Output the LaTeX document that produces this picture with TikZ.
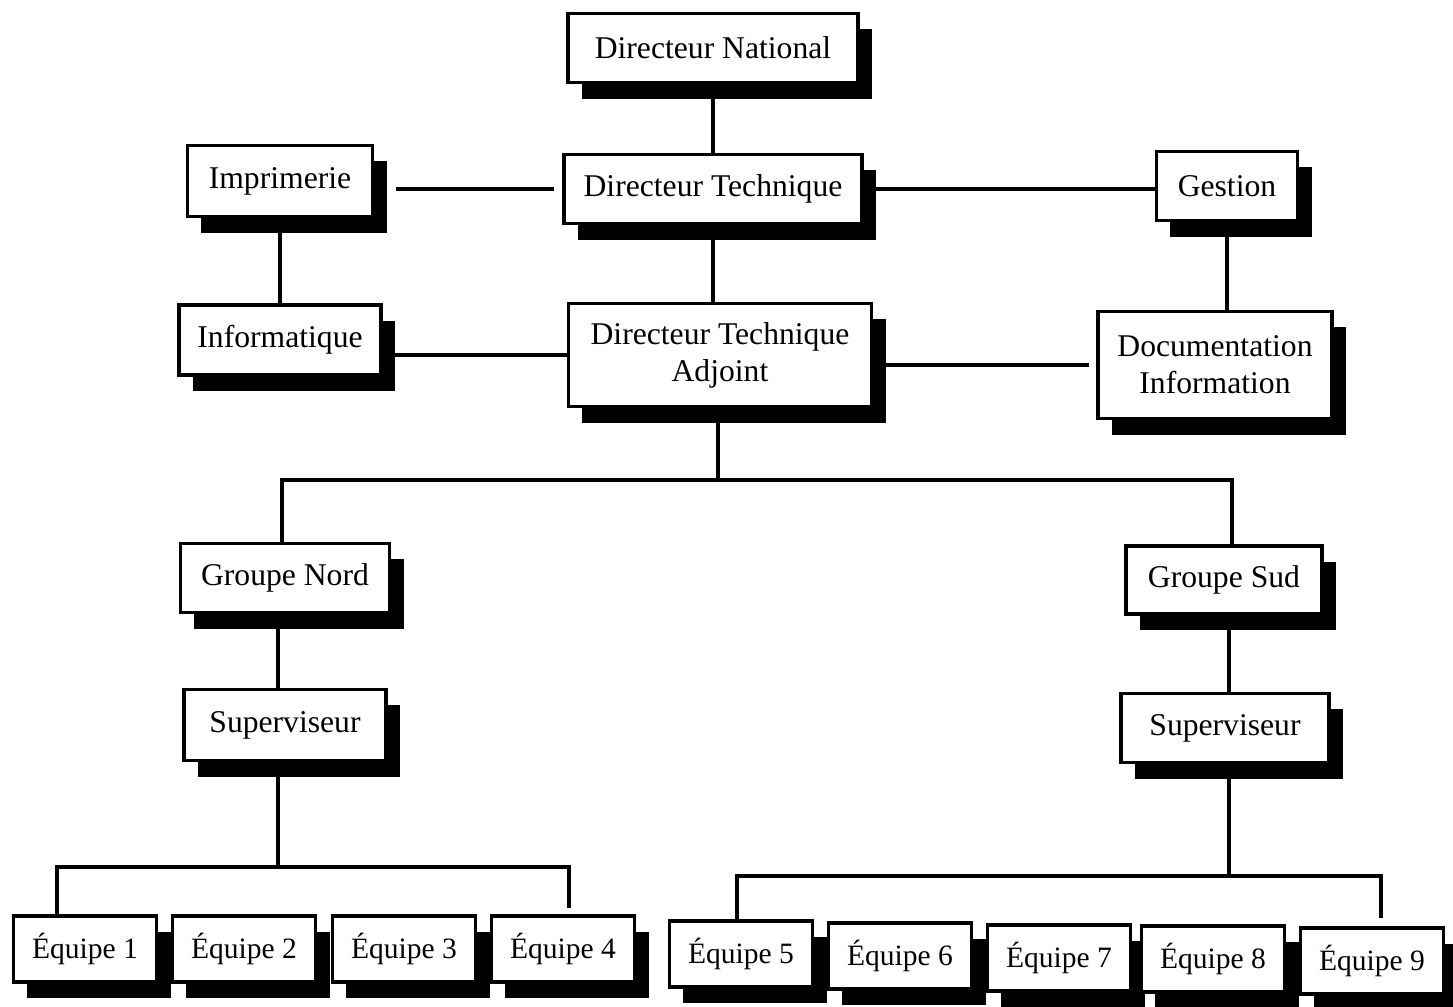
\documentclass[tikz,border=0pt]{standalone}
\usepackage{fontspec}
\setmainfont{Liberation Serif}
\usetikzlibrary{shadows}

\begin{document}
\begin{tikzpicture}[x=0.01cm, y=-0.01cm,
  orgbox/.style 2 args={draw, fill=white, line width=1pt, inner sep=0pt, align=center,
    minimum width=#1, minimum height=#2, font=\fontsize{9}{10.5}\selectfont,
    drop shadow={shadow xshift=0.14cm, shadow yshift=-0.16cm, fill=black, opacity=1}},
  teambox/.style={orgbox={1.43cm}{0.66cm}, font=\fontsize{8.4}{10}\selectfont},
  link/.style={line width=1pt}]
  \useasboundingbox (0,0) rectangle (1453,1007);
  % direction
  \node[orgbox={2.90cm}{0.69cm}] (dn) at (713,48) {Directeur National};
  \node[orgbox={2.98cm}{0.69cm}] (dt) at (713,189) {Directeur Technique};
  \node[orgbox={3.03cm}{1.03cm}] (dta) at (720,355) {Directeur Technique\\Adjoint};
  % services, left
  \node[orgbox={1.85cm}{0.71cm}] (imp) at (280,181) {Imprimerie};
  \node[orgbox={2.02cm}{0.70cm}] (inf) at (280,340) {Informatique};
  % services, right
  \node[orgbox={1.41cm}{0.69cm}] (ges) at (1227,186) {Gestion};
  \node[orgbox={2.34cm}{1.07cm}] (doc) at (1215,365) {Documentation\\Information};
  % groups
  \node[orgbox={2.09cm}{0.69cm}] (gn) at (285,578) {Groupe Nord};
  \node[orgbox={2.02cm}{0.71cm}] (supN) at (285,725) {Superviseur};
  \node[orgbox={1.96cm}{0.68cm}] (gs) at (1224,580) {Groupe Sud};
  \node[orgbox={2.08cm}{0.69cm}] (supS) at (1225,728) {Superviseur};
  % teams
  \node[teambox] (e1) at (85,949) {Équipe 1};
  \node[teambox] (e2) at (244,949) {Équipe 2};
  \node[teambox] (e3) at (404,949) {Équipe 3};
  \node[teambox] (e4) at (563,949) {Équipe 4};
  \node[teambox] (e5) at (741,954) {Équipe 5};
  \node[teambox] (e6) at (900,956) {Équipe 6};
  \node[teambox] (e7) at (1059,958) {Équipe 7};
  \node[teambox] (e8) at (1213,959) {Équipe 8};
  \node[teambox] (e9) at (1372,961) {Équipe 9};
  % links, top
  \draw[link] (dn.south) -- (dt.north);
  \draw[link] (dt.south) -- (dt.south |- dta.north);
  \draw[link] (imp.south) -- (inf.north);
  \draw[link] (ges.south) -- (ges.south |- doc.north);
  \draw[link, shorten <=0.22cm, shorten >=0.08cm] (imp.east |- dt) -- (dt.west);
  \draw[link] (dt.east) -- (dt.east -| ges.west);
  \draw[link] (inf.east |- dta) -- (dta.west);
  \draw[link, shorten >=0.07cm] (dta.east |- doc) -- (doc.west);
  % bus to the groups
  \coordinate (gbus) at (718,480);
  \coordinate (gbusW) at (282,480);
  \coordinate (gbusE) at (1232,480);
  \draw[link] (dta.south -| gbus) -- (gbus);
  \draw[link] (gn.north -| gbusW) -- (gbusW) -- (gbusE) -- (gs.north -| gbusE);
  % north teams
  \coordinate (nbus) at (278,867);
  \coordinate (nbusW) at (57,867);
  \coordinate (nbusE) at (569,867);
  \draw[link] (gn.south -| nbus) -- (supN.north -| nbus);
  \draw[link] (supN.south -| nbus) -- (nbus);
  \draw[link] (e1.north -| nbusW) -- (nbusW) -- (nbusE) -- ([yshift=0.06cm]e4.north -| nbusE);
  % south teams
  \coordinate (sbus) at (1229,876);
  \coordinate (sbusW) at (737,876);
  \coordinate (sbusE) at (1381,876);
  \draw[link] (gs.south -| sbus) -- (supS.north -| sbus);
  \draw[link] (supS.south -| sbus) -- (sbus);
  \draw[link] (e5.north -| sbusW) -- (sbusW) -- (sbusE) -- ([yshift=0.08cm]e9.north -| sbusE);
\end{tikzpicture}
\end{document}
